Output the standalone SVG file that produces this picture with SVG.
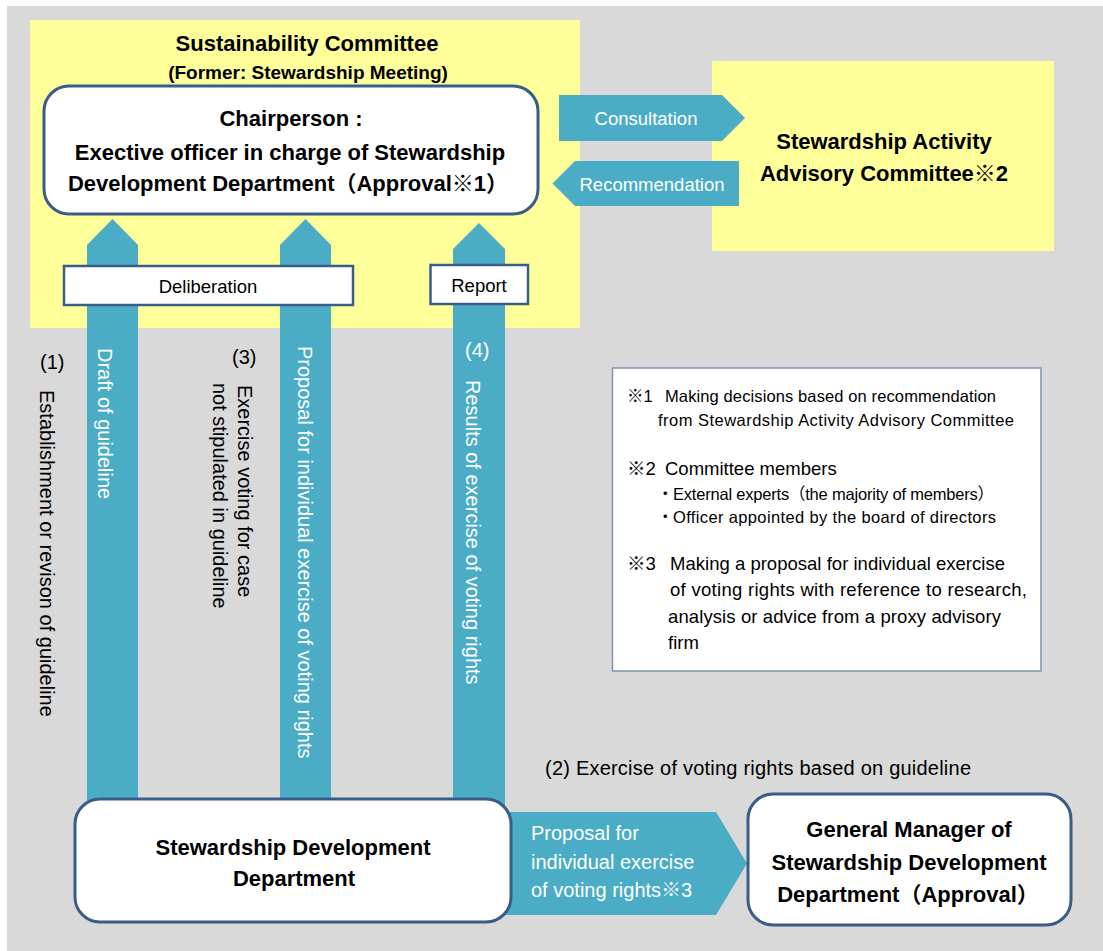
<svg xmlns="http://www.w3.org/2000/svg" width="1103" height="951" viewBox="0 0 1103 951">
<style>
.bg{fill:#D9D9D9}
.yel{fill:#FFFF99}
.arr{fill:#4BACC6}
.node{fill:#FFFFFF;stroke:#385D8A;stroke-width:3}
.lbl{fill:#FFFFFF;stroke:#385D8A;stroke-width:2.5}
.note{fill:#FFFFFF;stroke:#7F93B2;stroke-width:1.5}
text{font-family:"Liberation Sans","Noto Sans CJK JP",sans-serif;fill:#000}
.h{font-weight:bold;font-size:22px}
.s{font-weight:bold;font-size:19px}
.m{font-size:18.5px}
.v{font-size:20px}
.w{fill:#FFFFFF}
.n1{font-size:16.5px}
.n2{font-size:18.5px}
.c{text-anchor:middle}
</style>
<rect class="bg" x="7" y="6" width="1096" height="945"/>

<g id="sustainability-committee">
<rect class="yel" x="30" y="20" width="550" height="308"/>
<text class="h c" x="307" y="51">Sustainability Committee</text>
<text class="s c" x="308" y="79">(Former: Stewardship Meeting)</text>
</g>

<g id="advisory-committee">
<rect class="yel" x="712" y="61" width="342" height="190"/>
<text class="h c" x="884" y="149">Stewardship Activity</text>
<text class="h c" x="884" y="181">Advisory Committee※2</text>
</g>

<g id="connectors">
<polygon class="arr" points="87,810 87,245 112.5,219 138,245 138,810"/>
<polygon class="arr" points="280,810 280,245 305.5,219 331,245 331,810"/>
<polygon class="arr" points="453,810 453,249 479,223 505,249 505,810"/>
<polygon class="arr" points="559,95 722,95 745,118 722,141 559,141"/>
<polygon class="arr" points="739,161 575,161 552.5,183.5 575,206 739,206"/>
<polygon class="arr" points="505,812 716,812 747,863.5 716,915 505,915"/>
<text class="m c w" x="646" y="125">Consultation</text>
<text class="m c w" x="652" y="191">Recommendation</text>
<rect class="lbl" x="64" y="266" width="289" height="39"/>
<text class="m c" x="208" y="293">Deliberation</text>
<rect class="lbl" x="430.5" y="265" width="97.5" height="39"/>
<text class="m c" x="479" y="292">Report</text>
<text class="v" x="40" y="369">(1)</text>
<text class="v" transform="translate(40,390) rotate(90)">Establishment or revison of guideline</text>
<text class="v w" transform="translate(98,348) rotate(90)">Draft of guideline</text>
<text class="v" x="232" y="364">(3)</text>
<text class="v" transform="translate(238,385) rotate(90)">Exercise voting for case</text>
<text class="v" transform="translate(212.5,383) rotate(90)">not stipulated in guideline</text>
<text class="v w" transform="translate(298,346) rotate(90)">Proposal for individual exercise of voting rights</text>
<text class="v w" x="465" y="357">(4)</text>
<text class="v w" transform="translate(466,380) rotate(90)">Results of exercise of voting rights</text>
<text class="v" x="545" y="775" textLength="426">(2) Exercise of voting rights based on guideline</text>
<text class="v w" x="531" y="840">Proposal for</text>
<text class="v w" x="531" y="869">individual exercise</text>
<text class="v w" x="531" y="897">of voting rights※3</text>
</g>

<g id="chairperson">
<rect class="node" x="44" y="86" width="494" height="128" rx="25"/>
<text class="h c" x="291" y="126">Chairperson :</text>
<text class="h c" x="290" y="160">Exective officer in charge of Stewardship</text>
<text class="h c" x="288" y="191">Development Department（Approval※1）</text>
</g>

<g id="stewardship-development-department">
<rect class="node" x="75" y="799" width="436" height="123" rx="25"/>
<text class="h c" x="293" y="855">Stewardship Development</text>
<text class="h c" x="294" y="886">Department</text>
</g>

<g id="general-manager">
<rect class="node" x="748" y="794" width="323" height="131" rx="25"/>
<text class="h c" x="909" y="837">General Manager of</text>
<text class="h c" x="909" y="870">Stewardship Development</text>
<text class="h c" x="908" y="902">Department（Approval）</text>
</g>

<g id="notes">
<rect class="note" x="612.5" y="368" width="428.5" height="303"/>
<text class="n1" x="627" y="402">※1</text>
<text class="n1" x="665" y="402" textLength="331">Making decisions based on recommendation</text>
<text class="n1" x="658" y="426" textLength="356">from Stewardship Activity Advisory Committee</text>
<text class="n2" x="627" y="475">※2</text>
<text class="n2" x="665" y="475">Committee members</text>
<text class="n1" x="657" y="500">・</text>
<text class="n1" x="673" y="500" textLength="321">External experts（the majority of members）</text>
<text class="n1" x="657" y="523">・</text>
<text class="n1" x="673" y="523" textLength="323">Officer appointed by the board of directors</text>
<text class="n2" x="627" y="570">※3</text>
<text class="n2" x="670" y="570" textLength="335">Making a proposal for individual exercise</text>
<text class="n2" x="670" y="596" textLength="357">of voting rights with reference to research,</text>
<text class="n2" x="668" y="623" textLength="333">analysis or advice from a proxy advisory</text>
<text class="n2" x="668" y="649">firm</text>
</g>
</svg>
